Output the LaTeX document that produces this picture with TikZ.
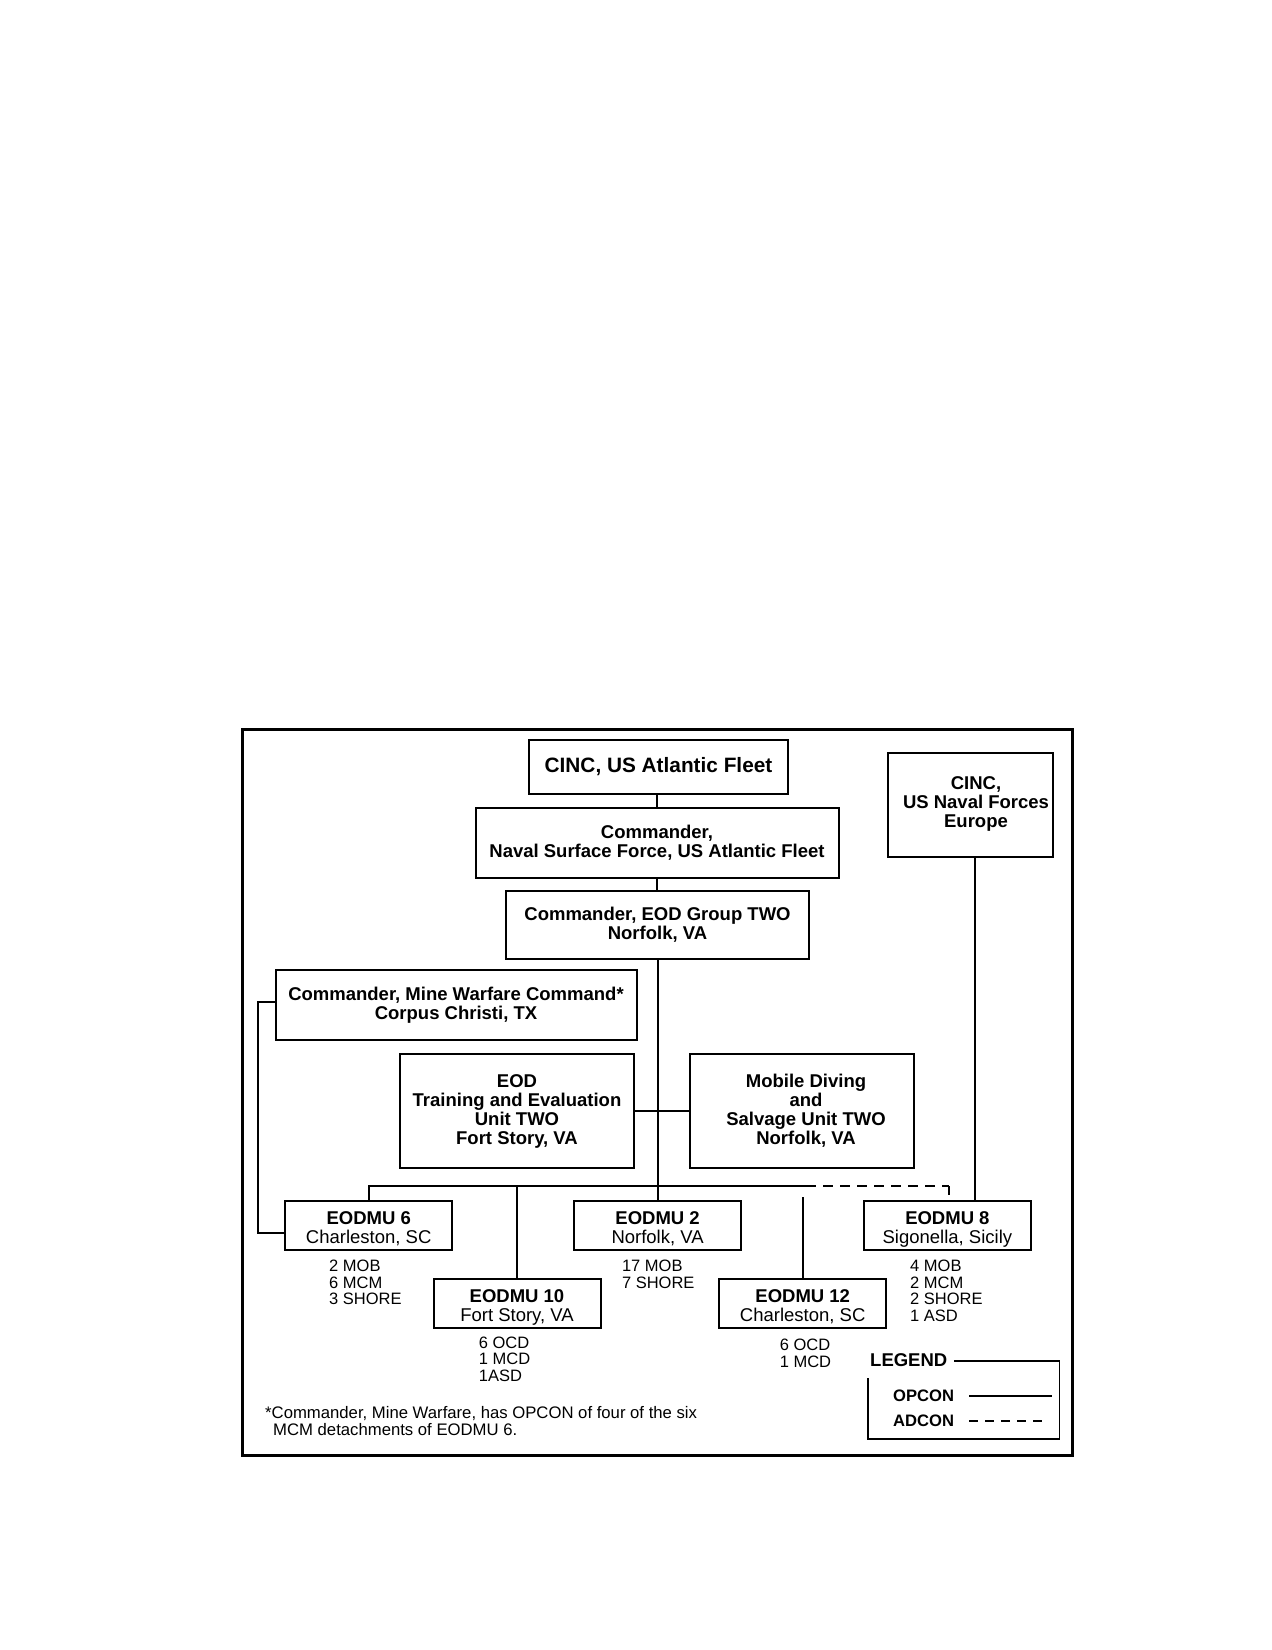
\documentclass[tikz,border=0pt]{standalone}
\usepackage{fontspec}
\setmainfont{Liberation Sans}
\newcommand\fsz[2]{\fontsize{#1}{#2}\selectfont}
\begin{document}
\begin{tikzpicture}[x=1pt,y=-1pt,
  bx/.style={draw,line width=2pt,inner sep=0pt,align=center,font=\fsz{18.5}{19}\bfseries},
  ubox/.style={draw,line width=2pt,inner sep=0pt,minimum width=167,minimum height=48.5,
    label={[inner sep=0pt,align=center,font=\fsz{18.5}{19},yshift=-3.5pt]center:#1}},
  stat/.style={anchor=west,inner sep=0pt,align=left,font=\fsz{16.5}{16.8}},
  ln/.style={line width=2pt},
  dsh/.style={dash pattern=on 10pt off 7pt},
  legtxt/.style={anchor=west,inner sep=0pt,font=\fsz{16.6}{17}\bfseries}]
\useasboundingbox[fill=white] (0,0) rectangle (1272,1650);
% outer frame
\draw[line width=3pt] (242,729) rectangle (1072,1455);
% boxes
\node[bx,minimum width=259,minimum height=54,font=\fsz{20.8}{22}\bfseries] (cinca) at (658.5,767) {CINC, US Atlantic Fleet};
\node[bx,minimum width=363,minimum height=69.5] (nsf) at (657,843) {Commander,\\Naval Surface Force, US Atlantic Fleet};
\node[bx,minimum width=303,minimum height=67.5] (eodg) at (657.5,925) {Commander, EOD Group TWO\\Norfolk, VA};
\node[bx,minimum width=165,minimum height=104.5] (eur) at (970.5,805) {};
\node[inner sep=0pt,align=center,font=\fsz{18.5}{19}\bfseries] (eurT) at (976,804) {CINC,\\US Naval Forces\\Europe};
\node[bx,minimum width=361,minimum height=69.5] (mw) at (456,1005) {Commander, Mine Warfare Command*\\Corpus Christi, TX};
\node[bx,minimum width=234.5,minimum height=114] (train) at (517,1111) {EOD\\Training and Evaluation\\Unit TWO\\Fort Story, VA};
\node[bx,minimum width=224,minimum height=114] (mdsu) at (802,1111) {};
\node[inner sep=0pt,align=center,font=\fsz{18.5}{19}\bfseries] (mdsuT) at (806,1111) {Mobile Diving\\and\\Salvage Unit TWO\\Norfolk, VA};
\node[ubox={\textbf{EODMU 6}\\Charleston, SC}] (eod6) at (368.7,1225.7) {};
\node[ubox={\textbf{EODMU 2}\\Norfolk, VA}] (eod2) at (657.6,1225.7) {};
\node[ubox={\textbf{EODMU 8}\\Sigonella, Sicily}] (eod8) at (947.4,1225.7) {};
\node[ubox={\textbf{EODMU 10}\\Fort Story, VA},minimum height=49] (eod10) at (517,1303.5) {};
\node[ubox={\textbf{EODMU 12}\\Charleston, SC},minimum height=49] (eod12) at (802.7,1303.5) {};
% stats
\node[stat] (s6) at (329,1282.4) {2 MOB\\6 MCM\\3 SHORE};
\node[stat] (s2) at (621.8,1274) {17 MOB\\7 SHORE};
\node[stat] (s8) at (910,1290.8) {4 MOB\\2 MCM\\2 SHORE\\1 ASD};
\node[stat] (s10) at (478.7,1359.3) {6 OCD\\1 MCD\\1ASD};
\node[stat] (s12) at (779.6,1353) {6 OCD\\1 MCD};
% connectors
\draw[ln] (nsf.north |- cinca.south) -- (nsf.north);
\draw[ln] (nsf.south) -- (nsf.south |- eodg.north);
\draw[ln] (eodg.south) -- (eodg.south |- eod2.north);
\draw[ln] (train.east) -- (mdsu.west);
\coordinate (busR) at (806,1186);
\coordinate (dashE) at (949,1186);
\coordinate (tick) at (949,1195);
\coordinate (e12top) at (802.7,1197);
\draw[ln] (eod6.north) |- (busR);
\draw[ln] (eod10.north) -- (eod10.north |- busR);
\draw[ln,dsh] (busR) -- (dashE);
\draw[ln] (dashE) -- (tick);
\draw[ln] (eod12.north) -- (eod12.north |- e12top);
\coordinate (eurb) at ([xshift=4.5pt]eur.south);
\draw[ln] (eurb) -- (eurb |- eod8.north);
\draw[ln] ([yshift=3pt]mw.west) -- ++(-16.5,0) |- ([yshift=-7pt]eod6.west);
% legend
\node[legtxt,font=\fsz{18.5}{19}\bfseries] (leg) at (870,1360) {LEGEND};
\coordinate (lgT) at (954,1361);
\coordinate (lgTR) at (1059.5,1361);
\coordinate (lgBR) at (1059.5,1439);
\coordinate (lgBL) at (868,1439);
\coordinate (lgTL) at (868,1378);
\draw[line width=1.3pt] (lgT) -- (lgTR) -- (lgBR) -- (lgBL) -- (lgTL);
\node[legtxt] (op) at (893,1396) {OPCON};
\node[legtxt] (ad) at (893,1421) {ADCON};
\coordinate (opA) at (969,1396); \coordinate (opB) at (1052,1396);
\coordinate (adA) at (969,1421); \coordinate (adB) at (1045,1421);
\draw[ln] (opA) -- (opB);
\draw[ln,dash pattern=on 9pt off 7pt] (adA) -- (adB);
% footnote
\node[anchor=west,inner sep=0pt,align=left,font=\fsz{16.7}{17}] (fn) at (265,1421.5) {*Commander, Mine Warfare, has OPCON of four of the six\\\hspace*{8pt}MCM detachments of EODMU 6.};
\end{tikzpicture}
\end{document}
